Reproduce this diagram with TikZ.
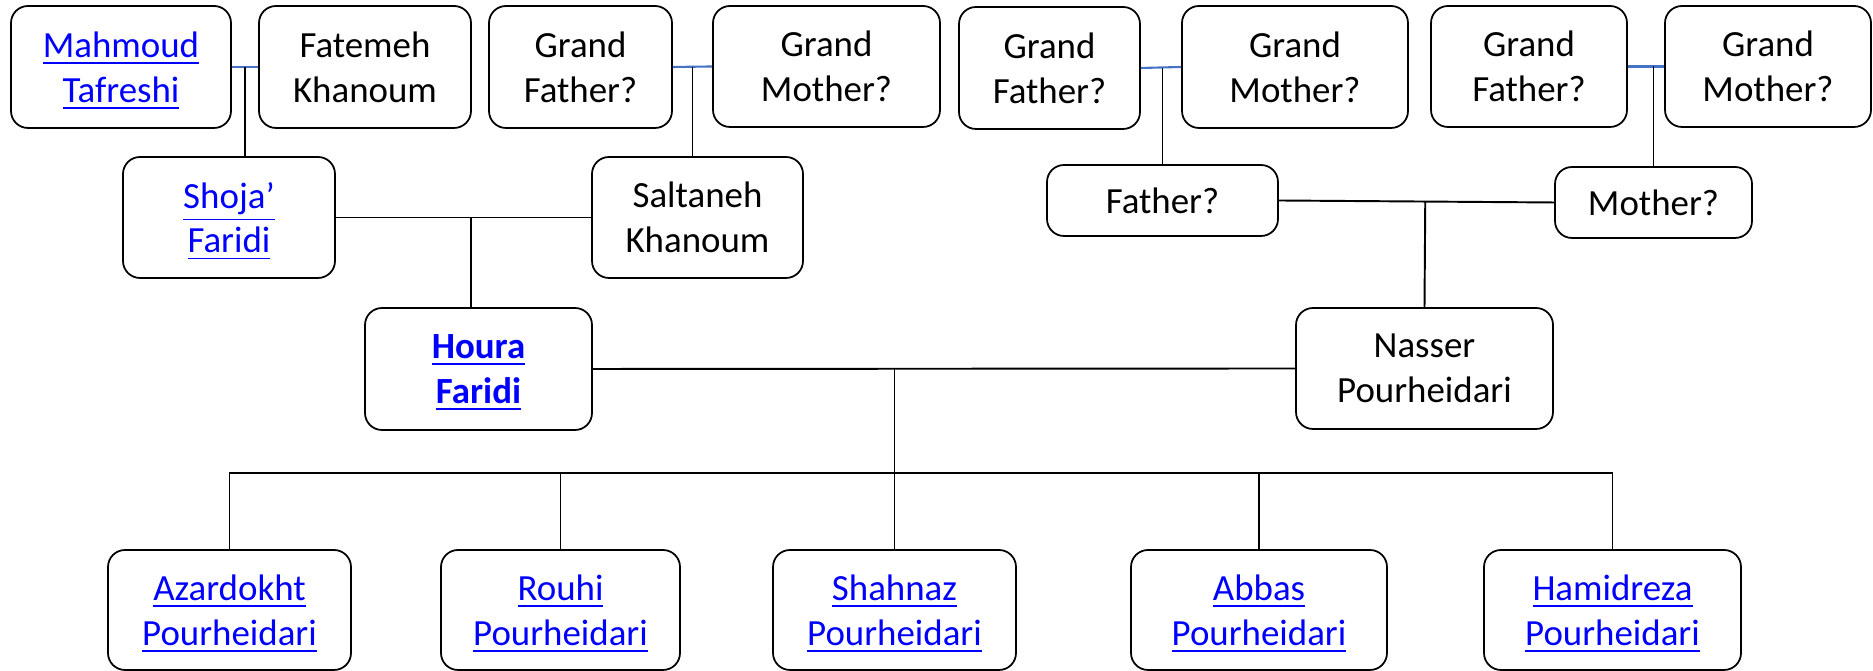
\documentclass[tikz,border=0pt]{standalone}
\usepackage{amsmath}
\usepackage{fontspec}
\setmainfont{Carlito}
\usepackage{tikz}
\usetikzlibrary{calc}
\definecolor{linkblue}{RGB}{0,0,255}
\definecolor{spouseblue}{RGB}{68,114,196}
\newcommand{\lnk}[1]{\textcolor{linkblue}{\smash[b]{\underline{#1}}}}
\tikzstyle{person} = [draw, rounded corners=0.17cm, line width=0.5pt, align=center, inner sep=0pt, font=\fontsize{10.5}{12.8}\selectfont, execute at begin node=\vphantom{h}]
\tikzstyle{spouse} = [line width=0.6pt, draw=spouseblue]
\tikzstyle{kin}    = [line width=0.55pt]

\begin{document}
\begin{tikzpicture}
        \useasboundingbox (0,0) rectangle (18.73,-6.71);

        % grandparents
        \node[person, minimum width=2.20cm, minimum height=1.22cm] (mahmoud) at (1.21,-0.67) {\lnk{Mahmoud}\\\lnk{Tafreshi}};
        \node[person, minimum width=2.12cm, minimum height=1.22cm] (fatemeh) at (3.65,-0.67) {Fatemeh\\Khanoum};
        \node[person, minimum width=1.83cm, minimum height=1.22cm] (gfa) at (5.805,-0.67) {Grand\\Father?};
        \node[person, minimum width=2.27cm, minimum height=1.21cm] (gma) at (8.265,-0.665) {Grand\\Mother?};
        \node[person, minimum width=1.81cm, minimum height=1.22cm] (gfb) at (10.495,-0.68) {Grand\\Father?};
        \node[person, minimum width=2.26cm, minimum height=1.22cm] (gmb) at (12.95,-0.67) {Grand\\Mother?};
        \node[person, minimum width=1.96cm, minimum height=1.21cm] (gfc) at (15.29,-0.665) {Grand\\Father?};
        \node[person, minimum width=2.06cm, minimum height=1.21cm] (gmc) at (17.68,-0.665) {Grand\\Mother?};

        % parents
        \node[person, minimum width=2.12cm, minimum height=1.21cm] (shoja) at (2.29,-2.175) {\lnk{Shoja’}\\\lnk{Faridi}};
        \node[person, minimum width=2.11cm, minimum height=1.21cm] (saltaneh) at (6.975,-2.175) {Saltaneh\\Khanoum};
        \node[person, minimum width=2.31cm, minimum height=0.71cm] (father) at (11.625,-2.005) {Father?};
        \node[person, minimum width=1.97cm, minimum height=0.71cm] (mother) at (16.535,-2.025) {Mother?};

        % couple
        \node[person, minimum width=2.27cm, minimum height=1.22cm] (houra) at (4.785,-3.69) {\lnk{\textbf{Houra}}\\\lnk{\textbf{Faridi}}};
        \node[person, minimum width=2.57cm, minimum height=1.21cm] (nasser) at (14.245,-3.685) {Nasser\\Pourheidari};

        % children
        \node[person, minimum width=2.43cm, minimum height=1.20cm] (azar) at (2.295,-6.10) {\lnk{Azardokht}\\\lnk{Pourheidari}};
        \node[person, minimum width=2.39cm, minimum height=1.20cm] (rouhi) at (5.605,-6.10) {\lnk{Rouhi}\\\lnk{Pourheidari}};
        \node[person, minimum width=2.43cm, minimum height=1.20cm] (shahnaz) at (8.945,-6.10) {\lnk{Shahnaz}\\\lnk{Pourheidari}};
        \node[person, minimum width=2.56cm, minimum height=1.20cm] (abbas) at (12.59,-6.10) {\lnk{Abbas}\\\lnk{Pourheidari}};
        \node[person, minimum width=2.57cm, minimum height=1.20cm] (hamid) at (16.125,-6.10) {\lnk{Hamidreza}\\\lnk{Pourheidari}};

        % Faridi side
        \draw[spouse] (mahmoud.east) -- (fatemeh.west);
        \coordinate (ma) at ($(mahmoud.east)!0.5!(fatemeh.west)$);
        \draw[kin] (ma) -- (ma |- shoja.north);
        \draw[spouse] (gfa.east) -- (gma.west);
        \coordinate (ga) at ($(gfa.east)!0.5!(gma.west)$);
        \draw[kin] (ga) -- (ga |- saltaneh.north);
        \draw[kin] (shoja.east) -- (saltaneh.west);
        \coordinate (sa) at ($(shoja.east)!0.53!(saltaneh.west)$);
        \draw[kin] (sa) -- (sa |- houra.north);

        % Pourheidari side
        \draw[spouse] (gfb.east) -- (gmb.west);
        \draw[kin] (father.north) -- (father.north |- gfb.east);
        \draw[spouse] (gfc.east) -- (gmc.west);
        \draw[kin] (mother.north) -- (mother.north |- gfc.east);
        \draw[kin] (father.east) -- (mother.west);
        \draw[kin] (nasser.north) -- ($(father.east)!(nasser.north)!(mother.west)$);

        % children
        \draw[kin] (houra.east) -- (nasser.west);
        \draw[kin] (shahnaz.north |- houra.east) -- (shahnaz.north);
        \draw[kin] (azar.north) -- ++(0,0.76) -| (hamid.north);
        \foreach \c in {rouhi,abbas}
            \draw[kin] (\c.north) -- ++(0,0.76);
    \end{tikzpicture}
\end{document}
